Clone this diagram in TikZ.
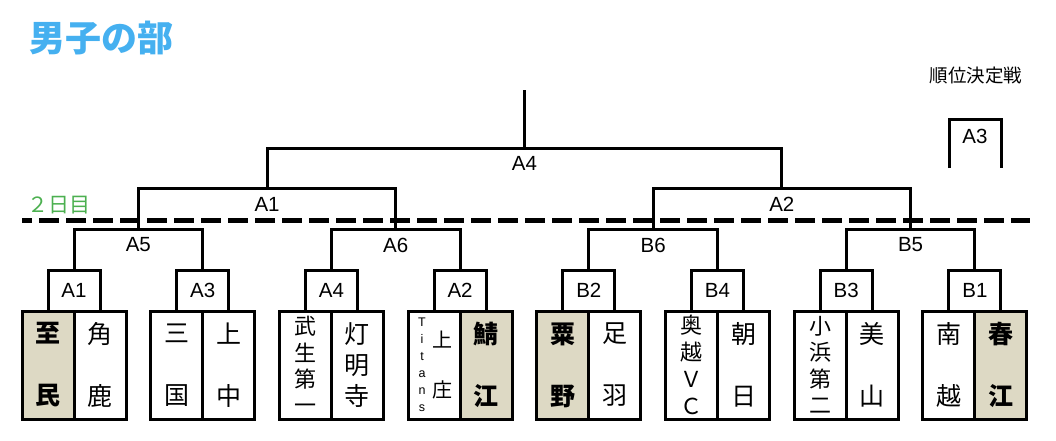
\documentclass[tikz,border=0pt]{standalone}
\usepackage{fontspec}
\setmainfont{Liberation Sans}
\newfontfamily\jp{Noto Sans CJK JP}
\definecolor{titleblue}{HTML}{45B0F0}
\definecolor{daygreen}{HTML}{4CB050}
\definecolor{winshade}{HTML}{DDD9C4}
\begin{document}
\begin{tikzpicture}[x=1pt,y=-1pt,line width=3pt,
  match/.style={draw,minimum width=52pt,minimum height=41pt,inner sep=0pt,font=\fontsize{20.5}{20.5}\selectfont},
  cell/.style={draw,minimum width=52pt,minimum height=108pt,inner sep=0pt},
  wincell/.style={cell,fill=winshade},
  lbl/.style={font=\fontsize{20.5}{20.5}\selectfont,inner sep=0pt},
  two/.style={font=\jp\fontsize{25}{62}\selectfont,align=center,inner sep=0pt},
  twob/.style={font=\jp\bfseries\fontsize{25}{62}\selectfont,align=center,inner sep=0pt},
  three/.style={font=\jp\fontsize{25}{31}\selectfont,align=center,inner sep=0pt},
  four/.style={font=\jp\fontsize{22}{26.3}\selectfont,align=center,inner sep=0pt},
  bracket/.style={draw,line width=3pt}
]
\useasboundingbox (0,0) rectangle (1056,440);

% titles
\node[font=\jp\bfseries\fontsize{36}{36}\selectfont,text=titleblue,anchor=west,inner sep=0pt] (title) at (28,38) {男子の部};
\node[font=\jp\fontsize{18.5}{18.5}\selectfont,inner sep=0pt] (rank) at (976,76) {順位決定戦};
\node[font=\jp\fontsize{21}{21}\selectfont,text=daygreen,anchor=west,inner sep=0pt] (day2) at (26,205) {２日目};

% day-2 divider
\coordinate (dl) at (22,220.5);
\coordinate (dr) at (1030,220.5);
\draw[line width=5pt,dash pattern=on 20pt off 7pt,dash phase=9.7pt] (dl) -- (dr);

% team cells
\node[wincell] (l0) at (48,365) {};     \node[cell] (r0) at (100,365) {};
\node[cell] (l1) at (176.7,365) {};     \node[cell] (r1) at (228.7,365) {};
\node[cell] (l2) at (305.4,365) {};     \node[cell] (r2) at (357.4,365) {};
\node[cell] (l3) at (434.1,365) {};     \node[wincell] (r3) at (486.1,365) {};
\node[wincell] (l4) at (562.8,365) {};  \node[cell] (r4) at (614.8,365) {};
\node[cell] (l5) at (691.5,365) {};     \node[cell] (r5) at (743.5,365) {};
\node[cell] (l6) at (820.2,365) {};     \node[cell] (r6) at (872.2,365) {};
\node[cell] (l7) at (948.9,365) {};     \node[wincell] (r7) at (1000.9,365) {};

% team names
\node[twob] (n0l) at (l0) {至\\民};
\node[two] (n0r) at (r0) {角\\鹿};
\node[two] (n1l) at (l1) {三\\国};
\node[two] (n1r) at (r1) {上\\中};
\node[four] (n2l) at (l2) {武\\生\\第\\一};
\node[three] (n2r) at (r2) {灯\\明\\寺};
\node[font=\fontsize{12.5}{17}\selectfont,align=center,inner sep=0pt] (n3a) at (422,365) {T\\i\\t\\a\\n\\s};
\node[font=\jp\fontsize{20}{50}\selectfont,align=center,inner sep=0pt] (n3b) at (442,365) {上\\庄};
\node[twob] (n3r) at (r3) {鯖\\江};
\node[twob] (n4l) at (l4) {粟\\野};
\node[two] (n4r) at (r4) {足\\羽};
\node[font=\jp\fontsize{22}{27}\selectfont,align=center,inner sep=0pt] (n5l) at (l5) {奥\\越\\Ｖ\\Ｃ};
\node[two] (n5r) at (r5) {朝\\日};
\node[four] (n6l) at (l6) {小\\浜\\第\\二};
\node[two] (n6r) at (r6) {美\\山};
\node[two] (n7l) at (l7) {南\\越};
\node[twob] (n7r) at (r7) {春\\江};

% first-round match boxes
\node[match] (m0) at (74,290.5) {A1};
\node[match] (m1) at (202.7,290.5) {A3};
\node[match] (m2) at (331.4,290.5) {A4};
\node[match] (m3) at (460.1,290.5) {A2};
\node[match] (m4) at (588.8,290.5) {B2};
\node[match] (m5) at (717.5,290.5) {B4};
\node[match] (m6) at (846.2,290.5) {B3};
\node[match] (m7) at (974.9,290.5) {B1};

% bracket junctions
\coordinate (jA5) at (138.35,229);
\coordinate (jA6) at (395.75,229);
\coordinate (jB6) at (653.15,229);
\coordinate (jB5) at (910.55,229);
\coordinate (jA1) at (267.05,188);
\coordinate (jA2) at (781.85,188);
\coordinate (jA4) at (524.45,148);
\coordinate (jtop) at (524.45,90);

\draw[bracket] (m0.north) |- (jA5) -| (m1.north);
\draw[bracket] (m2.north) |- (jA6) -| (m3.north);
\draw[bracket] (m4.north) |- (jB6) -| (m5.north);
\draw[bracket] (m6.north) |- (jB5) -| (m7.north);
\draw[bracket] (jA5) |- (jA1) -| (jA6);
\draw[bracket] (jB6) |- (jA2) -| (jB5);
\draw[bracket] (jA1) |- (jA4) -| (jA2);
\draw[bracket] (jA4) -- (jtop);

% bracket labels
\node[lbl] (lA5) at (138.35,245) {A5};
\node[lbl] (lA6) at (395.75,245) {A6};
\node[lbl] (lB6) at (653.15,245) {B6};
\node[lbl] (lB5) at (910.55,245) {B5};
\node[lbl] (lA1) at (267.05,204) {A1};
\node[lbl] (lA2) at (781.85,204) {A2};
\node[lbl] (lA4) at (524.45,163) {A4};

% placement match
\coordinate (pl) at (949,168);
\coordinate (pr) at (1001,168);
\coordinate (ptr) at (1001,119);
\draw[bracket] (pl) |- (ptr) -- (pr);
\node[lbl] (lA3) at (975,136) {A3};
\end{tikzpicture}
\end{document}
